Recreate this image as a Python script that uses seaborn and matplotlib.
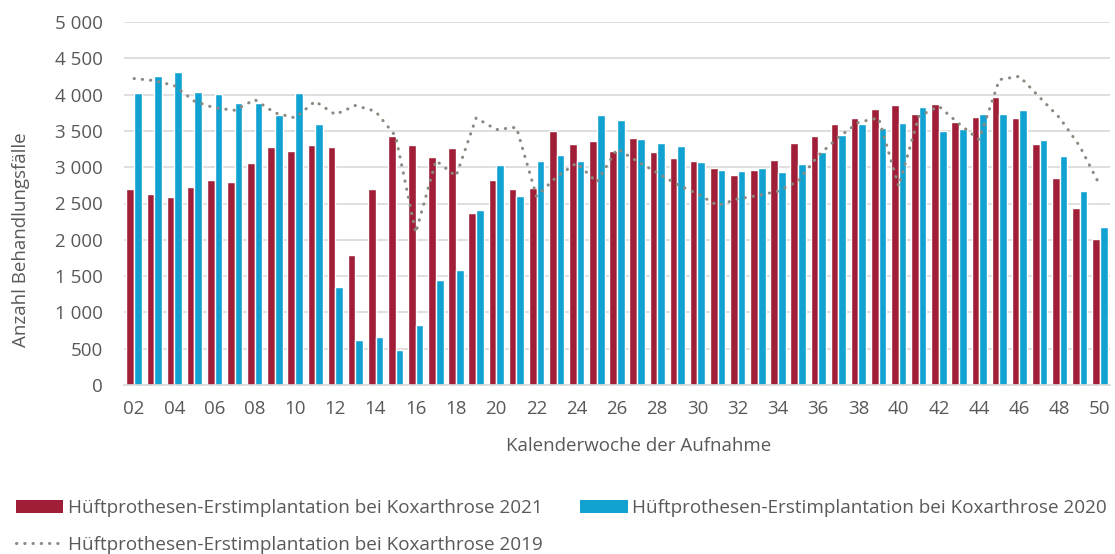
import matplotlib
matplotlib.use("Agg")
import numpy as np
import pandas as pd
import matplotlib.pyplot as plt
import seaborn as sns
from matplotlib.patches import Patch
from matplotlib.lines import Line2D

# ---------------- data ----------------
weeks = ["02", "03", "04", "05", "06", "07", "08", "09", "10", "11", "12", "13",
         "14", "15", "16", "17", "18", "19", "20", "21", "22", "23", "24", "25",
         "26", "27", "28", "29", "30", "31", "32", "33", "34", "35", "36", "37",
         "38", "39", "40", "41", "42", "43", "44", "45", "46", "47", "48", "49", "50"]

v2021 = [2697, 2633, 2587, 2730, 2830, 2803, 3064, 3284, 3225, 3302, 3280, 1785,
         2697, 3431, 3302, 3137, 3266, 2376, 2821, 2706, 2716, 3495, 3321, 3367,
         3229, 3408, 3216, 3129, 3092, 2991, 2899, 2964, 3101, 3339, 3431, 3597,
         3683, 3807, 3858, 3734, 3866, 3624, 3693, 3963, 3683, 3316, 2848, 2441, 2014]

v2020 = [4018, 4261, 4312, 4032, 4009, 3890, 3890, 3715, 4018, 3601, 1348, 624,
         666, 477, 831, 1441, 1578, 2404, 3032, 2606, 3087, 3165, 3082, 3720,
         3646, 3390, 3335, 3294, 3078, 2968, 2945, 2986, 2940, 3046, 3211, 3449,
         3591, 3536, 3614, 3830, 3495, 3522, 3738, 3734, 3784, 3376, 3151, 2669, 2170]

v2019 = [4221, 4193, 4124, 3908, 3817, 3784, 3931, 3748, 3679, 3908, 3725, 3850,
         3770, 3426, 2097, 3092, 2876, 3679, 3518, 3550, 2600, 2867, 3059, 2793,
         3254, 3083, 2923, 2761, 2633, 2472, 2564, 2610, 2669, 2807, 3160, 3410,
         3618, 3679, 2738, 3701, 3839, 3597, 3380, 4206, 4252, 3963, 3679, 3288, 2748]

lab21 = "Hüftprothesen-Erstimplantation bei Koxarthrose 2021"
lab20 = "Hüftprothesen-Erstimplantation bei Koxarthrose 2020"
lab19 = "Hüftprothesen-Erstimplantation bei Koxarthrose 2019"

yticks = [0, 500, 1000, 1500, 2000, 2500, 3000, 3500, 4000, 4500, 5000]
ytick_labels = ["0", "500", "1 000", "1 500", "2 000", "2 500", "3 000",
                "3 500", "4 000", "4 500", "5 000"]
xtick_labels = weeks[::2]

# ---------------- style ----------------
c21 = "#A01E37"
c20 = "#12A2D2"
c19 = "#8C8A80"
txt = "#595959"
grid_c = "#D9D9D9"
fs = 13.5
fs_leg = 13.6

sns.set_theme(style="white")
plt.rcParams['font.family'] = ['Open Sans', 'DejaVu Sans']

fig = plt.figure(figsize=(11.15, 5.54), dpi=100)
ax = fig.add_axes([124 / 1115, 1 - 385 / 554, 986 / 1115, 363 / 554])

df = pd.DataFrame({
    "Woche": weeks * 2,
    "Wert": v2021 + v2020,
    "Serie": [lab21] * len(weeks) + [lab20] * len(weeks),
})

sns.barplot(data=df, x="Woche", y="Wert", hue="Serie", hue_order=[lab21, lab20],
            palette=[c21, c20], width=0.76, saturation=1, legend=False, ax=ax,
            zorder=2)

sns.lineplot(x=np.arange(len(weeks)), y=v2019, ax=ax, color=c19, lw=2.2,
             linestyle=(0, (0.1, 2.6)), dash_capstyle="round", zorder=3,
             legend=False)

ax.set_xlim(-0.5, len(weeks) - 0.5)
ax.set_ylim(0, 5000)
ax.set_yticks(yticks)
ax.set_yticklabels(ytick_labels)
ax.set_xticks(np.arange(0, len(weeks), 2))
ax.set_xticklabels(xtick_labels)

ax.yaxis.grid(True, color=grid_c, lw=1.2, zorder=0)
ax.xaxis.grid(False)
ax.set_axisbelow(True)
for s in ["top", "right", "left"]:
    ax.spines[s].set_visible(False)
ax.spines["bottom"].set_color(grid_c)
ax.spines["bottom"].set_linewidth(1.2)

ax.tick_params(axis="y", length=0, pad=15, labelsize=fs, labelcolor=txt)
ax.tick_params(axis="x", length=0, pad=11, labelsize=fs, labelcolor=txt)

ax.set_ylabel("Anzahl Behandlungsfälle", fontsize=fs, color=txt)
ax.yaxis.set_label_coords(-0.095, 0.40)
ax.set_xlabel("Kalenderwoche der Aufnahme", fontsize=fs, color=txt)
ax.xaxis.set_label_coords(0.522, -0.143)

h21 = Patch(facecolor=c21, edgecolor="none", label=lab21)
h20 = Patch(facecolor=c20, edgecolor="none", label=lab20)
h19 = Line2D([], [], color=c19, lw=2.2, linestyle=(0, (0.1, 2.6)),
             dash_capstyle="round", label=lab19)

fig.legend(handles=[h21, h19, h20], ncol=2, loc="upper left",
           bbox_to_anchor=(16 / 1115, 1 - 499 / 554), frameon=False,
           fontsize=fs_leg, labelcolor=txt, handlelength=2.5, handleheight=0.7,
           handletextpad=0.25, columnspacing=2.0, labelspacing=1.0,
           borderpad=0, borderaxespad=0)

fig.savefig("out.png", dpi=100)
